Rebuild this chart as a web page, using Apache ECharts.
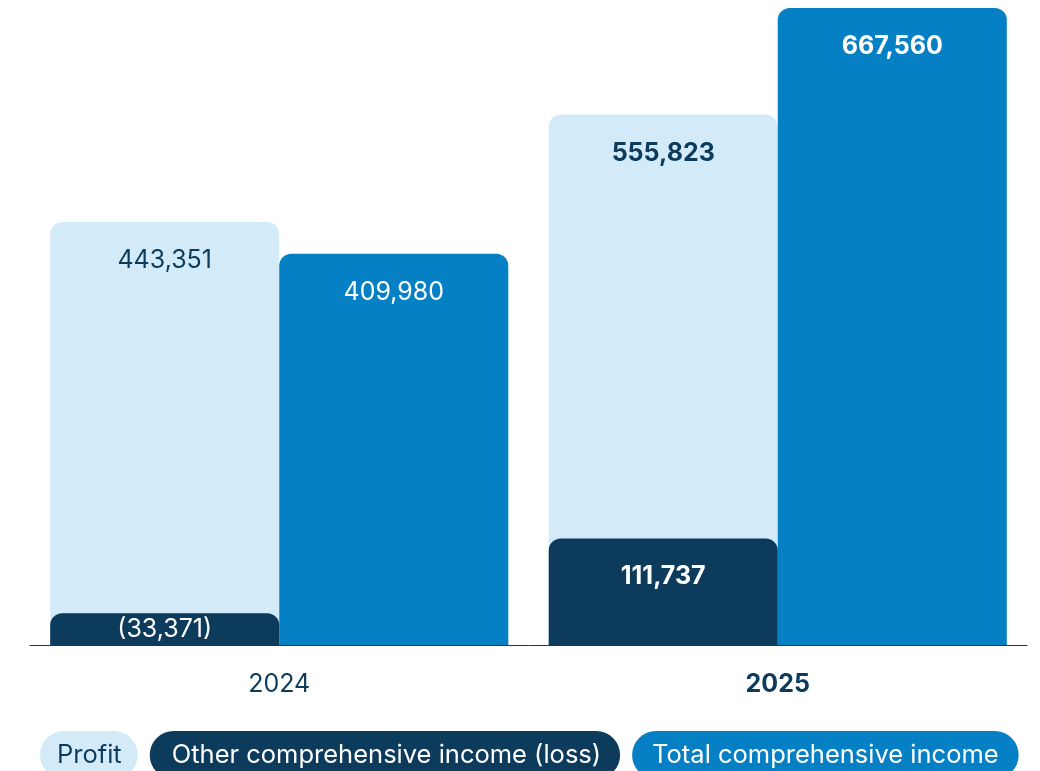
<!DOCTYPE html>
<html>
<head>
<meta charset="utf-8">
<title>Comprehensive income</title>
<script src="https://cdn.jsdelivr.net/npm/echarts@6/dist/echarts.min.js"></script>
<style>
  html, body { margin: 0; padding: 0; background: #ffffff; }
  #chart { width: 1040px; height: 771px; }
</style>
</head>
<body>
<div id="chart"></div>
<script>
// Years shown on the category axis
const years = ['2024', '2025'];
// Values in thousands
const profitValues = [443351, 555823];
const ociValues = [-33371, 111737];
const totalValues = [409980, 667560];
// Legend / series names
const seriesNames = ['Profit', 'Other comprehensive income (loss)', 'Total comprehensive income'];

const COLOR_LIGHT = '#d3ebf9';
const COLOR_DARK = '#0d3b5c';
const COLOR_BLUE = '#0680c4';
const FONT = 'Inter, "Noto Sans", sans-serif';
const CURRENT = 1; // the latest year is emphasised in bold

function fmt(v) {
  const s = Math.abs(v).toLocaleString('en-US');
  return v < 0 ? '(' + s + ')' : s;
}

// Bars are drawn from the magnitude; negative amounts are shown in parentheses
function barData(values, textColor) {
  return values.map((v, i) => ({
    value: Math.abs(v),
    raw: v,
    label: {
      color: textColor,
      fontWeight: i === CURRENT ? 'bold' : 'normal'
    }
  }));
}

const labelBase = {
  show: true,
  position: 'insideTop',
  distance: 26,
  fontFamily: FONT,
  fontSize: 25,
  formatter: p => fmt(p.data.raw)
};

const catAxis = (show) => ({
  type: 'category',
  data: years,
  gridIndex: 0,
  show: show,
  axisTick: { show: false },
  axisLine: { show: show, lineStyle: { color: COLOR_DARK, width: 1 } },
  axisLabel: {
    margin: 27,
    formatter: (v, i) => i === CURRENT ? '{b|' + v + '}' : '{n|' + v + '}',
    rich: {
      n: { fontFamily: FONT, fontSize: 25, color: COLOR_DARK },
      b: { fontFamily: FONT, fontSize: 25, color: COLOR_DARK, fontWeight: 'bold' }
    }
  }
});

const ociData = barData(ociValues, '#ffffff');
// a small bar leaves little room for its label
ociData.forEach(d => {
  if (Math.abs(d.raw) < 60000) d.label.distance = 4;
});

const pill = (fg, bg, pad) => ({
  color: fg, backgroundColor: bg, borderRadius: 24, padding: pad
});

const option = {
  animation: false,
  grid: { left: 30, right: 13, top: 8, bottom: 126 },
  xAxis: [catAxis(true), catAxis(false)],
  yAxis: {
    type: 'value',
    min: 0,
    max: Math.max(...profitValues, ...totalValues),
    show: false,
    splitLine: { show: false }
  },
  legend: {
    left: 35,
    top: 731,
    padding: 0,
    itemGap: 7,
    itemWidth: 0,
    itemHeight: 0,
    icon: 'rect',
    selectedMode: false,
    data: [
      { name: seriesNames[0], textStyle: pill(COLOR_DARK, COLOR_LIGHT, [10, 16, 10, 17]) },
      { name: seriesNames[1], textStyle: pill('#ffffff', COLOR_DARK, [10, 19, 10, 22]) },
      { name: seriesNames[2], textStyle: pill('#ffffff', COLOR_BLUE, [10, 20, 10, 20]) }
    ],
    textStyle: { fontFamily: FONT, fontSize: 25.5, lineHeight: 28 }
  },
  series: [
    {
      name: seriesNames[0],
      type: 'bar',
      xAxisIndex: 0,
      barGap: 0,
      barCategoryGap: '8.1%',
      itemStyle: { color: COLOR_LIGHT, borderRadius: [12, 12, 0, 0] },
      label: labelBase,
      data: barData(profitValues, COLOR_DARK),
      z: 2
    },
    {
      name: seriesNames[2],
      type: 'bar',
      xAxisIndex: 0,
      barGap: 0,
      barCategoryGap: '8.1%',
      itemStyle: { color: COLOR_BLUE, borderRadius: [12, 12, 0, 0] },
      label: labelBase,
      data: barData(totalValues, '#ffffff'),
      z: 2
    },
    {
      name: seriesNames[1],
      type: 'bar',
      xAxisIndex: 1,
      barGap: 0,
      barCategoryGap: '8.1%',
      itemStyle: { color: COLOR_DARK, borderRadius: [12, 12, 0, 0] },
      label: labelBase,
      data: ociData,
      z: 3
    },
    {
      // empty slot that keeps the overlay bars aligned with the Profit bars
      name: 'slot',
      type: 'bar',
      xAxisIndex: 1,
      barGap: 0,
      barCategoryGap: '8.1%',
      data: [],
      silent: true
    }
  ]
};

const chart = echarts.init(document.getElementById('chart'), null, { renderer: 'canvas' });
chart.setOption(option);
</script>
</body>
</html>
